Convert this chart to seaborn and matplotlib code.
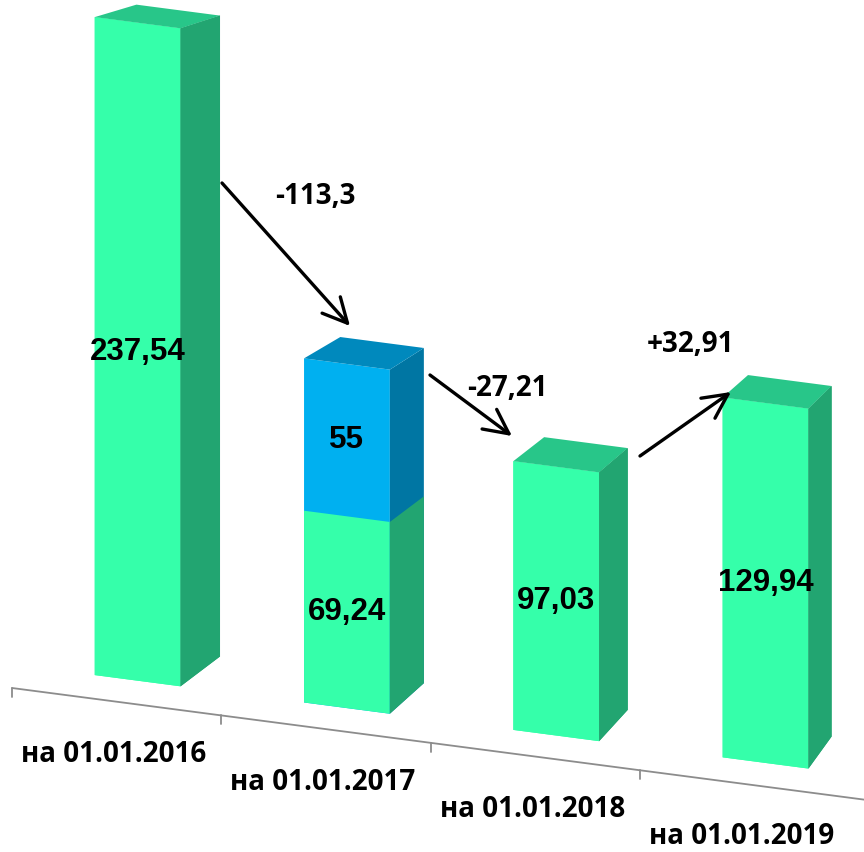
import numpy as np
import pandas as pd
import matplotlib
matplotlib.use("Agg")
import matplotlib.pyplot as plt
from matplotlib.patches import Polygon
from matplotlib.transforms import Affine2D, IdentityTransform
import seaborn as sns

categories = ['на 01.01.2016', 'на 01.01.2017', 'на 01.01.2018', 'на 01.01.2019']
base = [237.54, 69.24, 97.03, 129.94]
extra = [0, 55, 0, 0]

green, green_side, green_top = '#35FFAA', '#22A571', '#28C689'
blue, blue_side, blue_top = '#00B0F0', '#0076A3', '#0089BD'

sns.set_style('white')
label_font = ['Open Sans', 'DejaVu Sans']
value_font = ['Liberation Sans', 'DejaVu Sans']

df = pd.DataFrame({'cat': categories, 'base': base, 'extra': extra})
df['total'] = df['base'] + df['extra']

W, H = 864, 852
px_x, px_y = 209.3, 2.77      # pixels per category / per unit
fig = plt.figure(figsize=(W / 100, H / 100), dpi=100)
ax = fig.add_axes([12 / W, 164 / H, (W - 12) / W, (H - 164) / H])
ax.set_axis_off()

sns.barplot(data=df, x='cat', y='total', hue='cat',
            palette=[blue if e else green for e in extra], legend=False,
            width=0.41, linewidth=0, saturation=1, ax=ax)
sns.barplot(data=df, x='cat', y='base', color=green,
            width=0.41, linewidth=0, saturation=1, ax=ax)
ax.set_xlim(-0.5, -0.5 + (W - 12) / px_x)
ax.set_ylim(0, (H - 164) / px_y)

# fake 3d: skewed floor, bars pushed back, depth faces toward a vanishing point
s = 0.131
skew = Affine2D(np.array([[1, 0, 0], [-s, 1, s * 12], [0, 0, 1]]))
floor = ax.transData + skew
front = floor + Affine2D().translate(21, 21)
vp = np.array([1698, H + 462])
k = 0.026

def back(p):
    return p + k * (vp - p)

fronts = list(ax.patches)
n = len(categories)
for i, p in enumerate(fronts):
    p.set_transform(front)
    p.set_clip_on(False)
    x0, y0 = p.get_x(), p.get_y()
    x1, y1 = x0 + p.get_width(), y0 + p.get_height()
    bl, br, tr, tl = front.transform([(x0, y0), (x1, y0), (x1, y1), (x0, y1)])
    is_blue = i < n and extra[i] > 0
    side_c = blue_side if is_blue else green_side
    top_c = blue_top if is_blue else green_top
    ax.add_patch(Polygon([br, tr, back(tr), back(br)], closed=True, fc=side_c,
                         lw=0, transform=IdentityTransform(), clip_on=False))
    if i < n:
        ax.add_patch(Polygon([tl, tr, back(tr), back(tl)], closed=True, fc=top_c,
                             lw=0, transform=IdentityTransform(), clip_on=False))

def fmt(v, sign=False):
    v = round(v, 2)
    return (f"{v:+g}" if sign else f"{v:g}").replace('.', ',')

for i in range(n):
    ax.text(i, base[i] / 2, fmt(base[i]), transform=front, ha='center', va='center',
            fontsize=22.5, fontweight='bold', family=value_font, color='black')
    if extra[i]:
        ax.text(i, base[i] + extra[i] / 2, fmt(extra[i]), transform=front,
                ha='center', va='center', fontsize=22.5, fontweight='bold',
                family=value_font, color='black')

# category axis
ax.plot([-0.5, ax.get_xlim()[1]], [0, 0], color='#8C8C8C', lw=1.3,
        transform=floor, clip_on=False)
for b in np.arange(n) - 0.5:
    ax.plot([b, b], [0, -9 / px_y], color='#8C8C8C', lw=1.3,
            transform=floor, clip_on=False)
for i, cat in enumerate(categories):
    ax.text(i, 0, cat, transform=floor + Affine2D().translate(-3, -53),
            ha='center', va='center', fontsize=20, fontweight='bold',
            family=label_font, color='black')

# changes between dates
totals = df['total'].tolist()
diffs = [totals[j + 1] - totals[j] for j in range(n - 1)]
arrow_pos = [((222, 183), (350, 326)), ((430, 375), (512, 436)), ((640, 456), (731, 392))]
text_pos = [(315, 197), (507, 388), (690, 344)]
for d, (tail, head), (tx, ty) in zip(diffs, arrow_pos, text_pos):
    ax.annotate('', xy=(head[0], H - head[1]), xytext=(tail[0], H - tail[1]),
                xycoords='figure pixels', textcoords='figure pixels',
                arrowprops=dict(arrowstyle='->,head_length=0.8,head_width=0.4',
                                lw=2.4, color='black', mutation_scale=22,
                                shrinkA=0, shrinkB=0))
    fig.text(tx / W, 1 - ty / H, fmt(d, sign=d > 0), ha='center', va='center',
             fontsize=20, fontweight='bold', family=label_font, color='black')

fig.savefig('out.png', dpi=100)
